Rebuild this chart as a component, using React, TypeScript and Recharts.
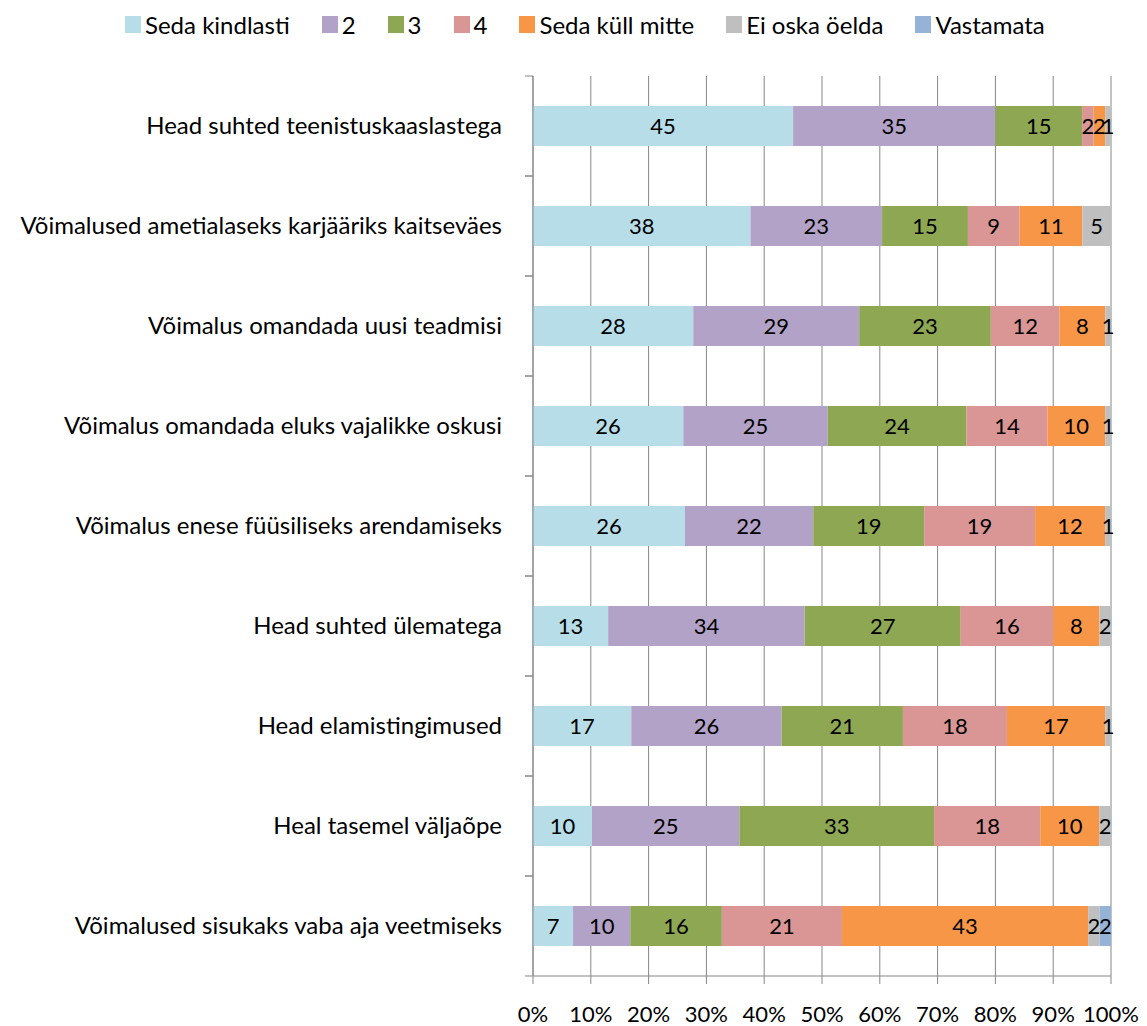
import React from 'react';
import { BarChart, Bar, XAxis, YAxis, CartesianGrid, Legend, LabelList } from 'recharts';

const categories = [
  'Head suhted teenistuskaaslastega',
  'Võimalused ametialaseks karjääriks kaitseväes',
  'Võimalus omandada uusi teadmisi',
  'Võimalus omandada eluks vajalikke oskusi',
  'Võimalus enese füüsiliseks arendamiseks',
  'Head suhted ülematega',
  'Head elamistingimused',
  'Heal tasemel väljaõpe',
  'Võimalused sisukaks vaba aja veetmiseks',
];
const sedaKindlasti = [45, 38, 28, 26, 26, 13, 17, 10, 7];
const kaks = [35, 23, 29, 25, 22, 34, 26, 25, 10];
const kolm = [15, 15, 23, 24, 19, 27, 21, 33, 16];
const neli = [2, 9, 12, 14, 19, 16, 18, 18, 21];
const sedaKullMitte = [2, 11, 8, 10, 12, 8, 17, 10, 43];
const eiOska = [1, 5, 1, 1, 1, 2, 1, 2, 2];
const vastamata = [0, 0, 0, 0, 0, 0, 0, 0, 2];
const xTicks = [0, 0.1, 0.2, 0.3, 0.4, 0.5, 0.6, 0.7, 0.8, 0.9, 1];

const seriesNames = ['Seda kindlasti', '2', '3', '4', 'Seda küll mitte', 'Ei oska öelda', 'Vastamata'];
const seriesColors = ['#B7DEE8', '#B3A2C7', '#8DA752', '#D99694', '#F79646', '#BFBFBF', '#95B3D7'];
const seriesValues = [sedaKindlasti, kaks, kolm, neli, sedaKullMitte, eiOska, vastamata];

const data = categories.map((c, i) => {
  const row: Record<string, string | number> = { name: c };
  seriesValues.forEach((arr, k) => {
    row['s' + k] = arr[i];
  });
  return row;
});

const AXIS = '#868686';
const FONT = 'Lato, "Open Sans", sans-serif';
const BAND = 100;

const CategoryTick = (props: any) => {
  const { x, y, payload } = props;
  return (
    <g>
      <line x1={x - 8} x2={x} y1={y - BAND / 2} y2={y - BAND / 2} stroke={AXIS} />
      <line x1={x - 8} x2={x} y1={y + BAND / 2} y2={y + BAND / 2} stroke={AXIS} />
      <text x={x - 31} y={y} dy={8} textAnchor="end" fontSize={24} fill="#000" fontFamily={FONT}>
        {payload.value}
      </text>
    </g>
  );
};

const LegendContent = () => (
  <div style={{ height: 30, display: 'flex', alignItems: 'center', paddingLeft: 117, fontFamily: FONT, fontSize: 24, color: '#000' }}>
    {seriesNames.map((n, k) => (
      <div key={n} style={{ display: 'flex', alignItems: 'center', marginRight: 32 }}>
        <span style={{ width: 16, height: 17, background: seriesColors[k], display: 'inline-block', marginRight: 4 }} />
        <span>{n}</span>
      </div>
    ))}
  </div>
);

const fmt = (v: any) => (v === 0 || v === undefined ? '' : v);

export default function App() {
  return (
    <div style={{ width: 1131, height: 1018, fontFamily: FONT }}>
      <BarChart
        width={1131}
        height={1018}
        data={data}
        layout="vertical"
        stackOffset="expand"
        barSize={40}
        margin={{ top: 38, right: 28, bottom: 20, left: 0 }}
      >
        <CartesianGrid horizontal={false} vertical stroke={AXIS} strokeWidth={1} />
        <XAxis
          type="number"
          domain={[0, 1]}
          ticks={xTicks}
          tickFormatter={(v: number) => Math.round(v * 100) + '%'}
          stroke={AXIS}
          tickSize={8}
          tickMargin={22}
          height={30}
          tick={{ fill: '#000', fontSize: 22, fontFamily: FONT }}
          interval={0}
        />
        <YAxis
          type="category"
          dataKey="name"
          width={525}
          stroke={AXIS}
          tickLine={false}
          tickSize={0}
          tickMargin={0}
          tick={<CategoryTick />}
          interval={0}
        />
        <Legend verticalAlign="top" content={<LegendContent />} wrapperStyle={{ top: 1, left: 0, width: 1131, height: 30 }} />
        {seriesNames.map((n, k) => (
          <Bar key={n} dataKey={'s' + k} name={n} stackId="a" fill={seriesColors[k]} isAnimationActive={false}>
            <LabelList dataKey={'s' + k} position="center" formatter={fmt} fill="#000" fontSize={22} fontFamily={FONT} />
          </Bar>
        ))}
      </BarChart>
    </div>
  );
}
